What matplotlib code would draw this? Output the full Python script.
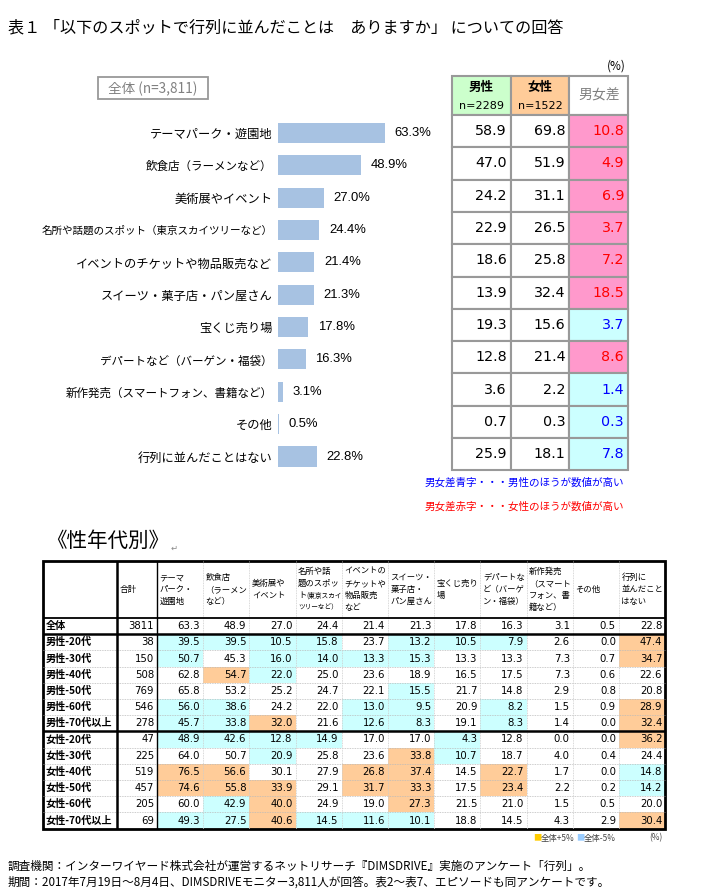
import numpy as np
import matplotlib.pyplot as plt
from matplotlib.patches import Rectangle

plt.rcParams['font.family'] = ['Noto Sans CJK JP', 'DejaVu Sans']

title = '表１ 「以下のスポットで行列に並んだことは　ありますか」 についての回答'
spots = ['テーマパーク・遊園地', '飲食店（ラーメンなど）', '美術展やイベント',
         '名所や話題のスポット（東京スカイツリーなど）', 'イベントのチケットや物品販売など',
         'スイーツ・菓子店・パン屋さん', '宝くじ売り場', 'デパートなど（バーゲン・福袋）',
         '新作発売（スマートフォン、書籍など）', 'その他', '行列に並んだことはない']
total = [63.3, 48.9, 27.0, 24.4, 21.4, 21.3, 17.8, 16.3, 3.1, 0.5, 22.8]
male = [58.9, 47.0, 24.2, 22.9, 18.6, 13.9, 19.3, 12.8, 3.6, 0.7, 25.9]
female = [69.8, 51.9, 31.1, 26.5, 25.8, 32.4, 15.6, 21.4, 2.2, 0.3, 18.1]
gap = [10.8, 4.9, 6.9, 3.7, 7.2, 18.5, 3.7, 8.6, 1.4, 0.3, 7.8]

col_heads = ['テーマ\nパーク・\n遊園地', '飲食店\n（ラーメン\nなど）', '美術展や\nイベント',
             '名所や話\n題のスポッ\nト\nツリーなど）', 'イベントの\nチケットや\n物品販売\nなど',
             'スイーツ・\n菓子店・\nパン屋さん', '宝くじ売り\n場', 'デパートな\nど（バーゲ\nン・福袋）',
             '新作発売\n（スマート\nフォン、書\n籍など）', 'その他', '行列に\n並んだこと\nはない']
groups = ['全体', '男性-20代', '男性-30代', '男性-40代', '男性-50代', '男性-60代', '男性-70代以上',
          '女性-20代', '女性-30代', '女性-40代', '女性-50代', '女性-60代', '女性-70代以上']
counts = [3811, 38, 150, 508, 769, 546, 278, 47, 225, 519, 457, 205, 69]
m20 = [39.5, 39.5, 10.5, 15.8, 23.7, 13.2, 10.5, 7.9, 2.6, 0.0, 47.4]
m30 = [50.7, 45.3, 16.0, 14.0, 13.3, 15.3, 13.3, 13.3, 7.3, 0.7, 34.7]
m40 = [62.8, 54.7, 22.0, 25.0, 23.6, 18.9, 16.5, 17.5, 7.3, 0.6, 22.6]
m50 = [65.8, 53.2, 25.2, 24.7, 22.1, 15.5, 21.7, 14.8, 2.9, 0.8, 20.8]
m60 = [56.0, 38.6, 24.2, 22.0, 13.0, 9.5, 20.9, 8.2, 1.5, 0.9, 28.9]
m70 = [45.7, 33.8, 32.0, 21.6, 12.6, 8.3, 19.1, 8.3, 1.4, 0.0, 32.4]
f20 = [48.9, 42.6, 12.8, 14.9, 17.0, 17.0, 4.3, 12.8, 0.0, 0.0, 36.2]
f30 = [64.0, 50.7, 20.9, 25.8, 23.6, 33.8, 10.7, 18.7, 4.0, 0.4, 24.4]
f40 = [76.5, 56.6, 30.1, 27.9, 26.8, 37.4, 14.5, 22.7, 1.7, 0.0, 14.8]
f50 = [74.6, 55.8, 33.9, 29.1, 31.7, 33.3, 17.5, 23.4, 2.2, 0.2, 14.2]
f60 = [60.0, 42.9, 40.0, 24.9, 19.0, 27.3, 21.5, 21.0, 1.5, 0.5, 20.0]
f70 = [49.3, 27.5, 40.6, 14.5, 11.6, 10.1, 18.8, 14.5, 4.3, 2.9, 30.4]
seg = [total, m20, m30, m40, m50, m60, m70, f20, f30, f40, f50, f60, f70]

note1 = '調査機関：インターワイヤード株式会社が運営するネットリサーチ『DIMSDRIVE』実施のアンケート「行列」。'
note2 = '期間：2017年7月19日～8月4日、DIMSDRIVEモニター3,811人が回答。表2～表7、エピソードも同アンケートです。'

fig = plt.figure(figsize=(7.1, 8.93), dpi=100)
ax = fig.add_axes([0, 0, 1, 1])
ax.set_xlim(0, 710)
ax.set_ylim(893, 0)
ax.axis('off')

ax.text(8, 28, title, fontsize=11.6, va='center')

# --- bar chart ---
b_top, b_bot = 116.8, 472.7
axb = fig.add_axes([278 / 710, 1 - b_bot / 893, 169 / 710, (b_bot - b_top) / 893])
y = np.arange(len(spots))
axb.barh(y, total, height=0.62, color='#a7c2e2')
axb.set_xlim(0, 100)
axb.set_ylim(len(spots) - 0.5, -0.5)
axb.set_yticks(y, spots)
axb.set_xticks([])
axb.tick_params(axis='y', length=0, pad=4)
for s in axb.spines.values():
    s.set_visible(False)
axb.patch.set_alpha(0)
for lab in axb.get_yticklabels():
    t = lab.get_text()
    lab.set_fontsize(7.6 if t.startswith('名所') else 8.3 if '（' in t else 8.8)
for i, v in enumerate(total):
    axb.annotate(f'{v:.1f}%', (v, i), xytext=(7, 0), textcoords='offset points',
                 va='center', fontsize=9.4, family='Liberation Sans')

ax.add_patch(Rectangle((98, 77), 110, 22, fc='white', ec='#999999', lw=1.3))
ax.text(153, 88.5, '全体 (n=3,811)', fontsize=9.8, color='#808080', ha='center', va='center')

# --- gender table ---
tx, cw, hy, hh, rh = 452, 58.7, 76, 39, 32.3
ax.text(626, 66, '(%)', fontsize=8.5, ha='right', va='center')
ax.add_patch(Rectangle((tx, hy), cw, hh, fc='#ccffcc', ec='#999999', lw=1.5))
ax.add_patch(Rectangle((tx + cw, hy), cw, hh, fc='#ffcc99', ec='#999999', lw=1.5))
ax.add_patch(Rectangle((tx + 2 * cw, hy), cw, hh, fc='white', ec='#999999', lw=1.5))
for j, (nm, n) in enumerate([('男性', 'n=2289'), ('女性', 'n=1522')]):
    ax.text(tx + cw * (j + 0.5), hy + 11, nm, fontsize=9, fontweight='bold', ha='center', va='center')
    ax.text(tx + cw * (j + 0.5), hy + 30, n, fontsize=8, family='DejaVu Sans', ha='center', va='center')
ax.text(tx + cw * 2.5, hy + 20, '男女差', fontsize=10, color='#808080', ha='center', va='center')
for i in range(len(spots)):
    y0 = hy + hh + i * rh
    red = female[i] > male[i]
    fills = ['white', 'white', '#ff99cc' if red else '#ccffff']
    vals = [male[i], female[i], gap[i]]
    for j in range(3):
        ax.add_patch(Rectangle((tx + j * cw, y0), cw, rh, fc=fills[j], ec='#999999', lw=1.5))
        col = 'black' if j < 2 else ('#ff0000' if red else '#0000ff')
        ax.text(tx + (j + 1) * cw - 4, y0 + rh / 2, f'{vals[j]:.1f}', fontsize=10.3,
                family='DejaVu Sans', color=col, ha='right', va='center')
ax.text(425, 483, '男女差青字・・・男性のほうが数値が高い', fontsize=7.6, color='#0000ff', va='center')
ax.text(425, 507, '男女差赤字・・・女性のほうが数値が高い', fontsize=7.6, color='#ff0000', va='center')

# --- age/gender table ---
ax.text(46, 541, '《性年代別》', fontsize=14.8, va='center')
ax.text(171, 548, '↵', fontsize=6, color='#888888', va='center', family=['DejaVu Sans'])
L, lw0, cw0, cw1 = 43, 74, 40, 46.2
top, hdr, rr = 561, 57, 16.2
xs = [L, L + lw0, L + lw0 + cw0] + [L + lw0 + cw0 + cw1 * (k + 1) for k in range(len(col_heads))]
R = xs[-1]
bottom = top + hdr + rr * len(groups)
for i, (g, n, vals) in enumerate(zip(groups, counts, seg)):
    y0 = top + hdr + i * rr
    yc = y0 + rr / 2
    ax.text(L + 3, yc, g, fontsize=7.3, fontweight='bold', va='center')
    ax.text(xs[2] - 3, yc, f'{n}', fontsize=7.3, family='DejaVu Sans', ha='right', va='center')
    for j, v in enumerate(vals):
        d = round(v - total[j], 1)
        if i > 0 and d >= 5:
            ax.add_patch(Rectangle((xs[j + 2], y0), cw1, rr, fc='#ffcc99', ec='none'))
        elif i > 0 and d <= -5:
            ax.add_patch(Rectangle((xs[j + 2], y0), cw1, rr, fc='#ccffff', ec='none'))
        ax.text(xs[j + 3] - 3, yc, f'{v:.1f}', fontsize=7.3, family='DejaVu Sans', ha='right', va='center')

hc = top + hdr / 2
ax.text(xs[1] + 3, hc, '合計', fontsize=6.2, va='center')
for j, h in enumerate(col_heads):
    lines = h.split('\n')
    n = len(lines)
    for k, ln in enumerate(lines):
        yy = hc + (k - (n - 1) / 2) * 12
        small = j == 3 and k == 3
        ax.text(xs[j + 2] + 2.5, yy, ln, fontsize=4.8 if small else 6.0, va='center')
        if j == 3 and k == 2:
            ax.text(xs[j + 2] + 11, yy, '(東京スカイ', fontsize=4.8, va='center')

# grid lines
for y0 in [top + hdr + i * rr for i in range(2, len(groups))]:
    if y0 != top + hdr + 7 * rr:
        ax.hlines(y0, L, R, color='#bbbbbb', lw=0.6, ls=(0, (1, 1)))
for x0 in xs[3:-1]:
    ax.vlines(x0, top, bottom, color='#cccccc', lw=0.6, ls=(0, (1, 1)))
ax.hlines(top + hdr, L, R, color='black', lw=1.3)
ax.hlines(top + hdr + rr, L, R, color='black', lw=1.8)
ax.hlines(top + hdr + 7 * rr, L, R, color='black', lw=1.8)
ax.vlines(xs[1], top, bottom, color='black', lw=1.8)
ax.vlines(xs[2], top, bottom, color='black', lw=1.0)
ax.add_patch(Rectangle((L, top), R - L, bottom - top, fc='none', ec='black', lw=2))

ax.text(533, 838, '■', fontsize=6, color='#ffcc00', va='center')
ax.text(541, 838, '全体+5%', fontsize=6, color='#444444', va='center')
ax.text(576, 838, '■', fontsize=6, color='#99ccff', va='center')
ax.text(584, 838, '全体-5%', fontsize=6, color='#444444', va='center')
ax.text(662, 838, '(%)', fontsize=6, color='#444444', ha='right', va='center')

ax.text(8, 866, note1, fontsize=8.4, va='center')
ax.text(8, 882, note2, fontsize=8.4, va='center')

fig.savefig('out.png', dpi=100)
